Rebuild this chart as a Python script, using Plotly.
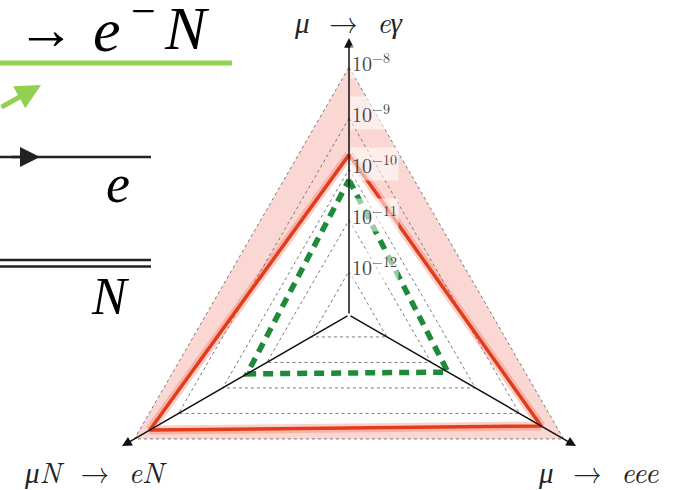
import numpy as np
import plotly.graph_objects as go

# --- chart data -------------------------------------------------------------
processes = ["<i>μ</i>  →  <i>eγ</i>", "<i>μ</i>  →  <i>eee</i>", "<i>μN</i>  →  <i>eN</i>"]
axis_angles = [90, -30, 210]                      # direction of each process axis (deg)
tick_exponents = [-12, -11, -10, -9, -8]
tick_labels = ["10<sup>−12</sup>", "10<sup>−11</sup>", "10<sup>−10</sup>",
               "10<sup>−9</sup>", "10<sup>−8</sup>"]
center_exponent = -12.86                          # log10 value at the origin

model_br = [10 ** -9.72, 10 ** -8.51, 10 ** -8.35]        # solid red triangle
band_upper_br = [1e-8, 1e-8, 1e-8]                         # outer edge of shaded band
alt_model_br = [10 ** -10.21, 10 ** -10.62, 10 ** -10.55]  # dashed green triangle
axis_end_br = [10 ** -7.43, 10 ** -7.72, 10 ** -7.72]      # arrow tips

W, H = 673, 490
PX_PER_DECADE = 51.0
CX, CY = 349.0, 315.0     # origin in pixels
TEX = "Latin Modern Roman"
SERIF = "Liberation Serif"


def project(values, close=True):
    """Map branching ratios on the three log axes to x/y (in decades)."""
    r = np.log10(np.asarray(values, dtype=float)) - center_exponent
    th = np.radians(axis_angles)
    x, y = r * np.cos(th), r * np.sin(th)
    if close:
        x, y = np.append(x, x[0]), np.append(y, y[0])
    return x, y


def px(xp):
    return xp / W


def py(yp):
    return 1 - yp / H


fig = go.Figure()

# shaded band between the model triangle and the 1e-8 triangle
xi, yi = project(model_br)
fig.add_trace(go.Scatter(x=xi, y=yi, mode="lines", line=dict(width=0),
                         hoverinfo="skip"))
xo, yo = project(band_upper_br)
fig.add_trace(go.Scatter(x=xo, y=yo, mode="lines", line=dict(width=0),
                         fill="tonext", fillcolor="rgba(244,150,140,0.38)",
                         hoverinfo="skip"))

# dotted grid triangles at each decade
for e in tick_exponents:
    gx, gy = project([10.0 ** e] * 3)
    fig.add_trace(go.Scatter(x=gx, y=gy, mode="lines",
                             line=dict(color="#7a7a7a", width=1, dash="dot"),
                             hoverinfo="skip"))

# model triangle (soft halo + line)
fig.add_trace(go.Scatter(x=xi, y=yi, mode="lines",
                         line=dict(color="rgba(235,70,40,0.25)", width=9),
                         hoverinfo="skip"))
fig.add_trace(go.Scatter(x=xi, y=yi, mode="lines",
                         line=dict(color="#e23c1c", width=3.5),
                         hoverinfo="skip"))

# alternative model triangle
ax_, ay_ = project(alt_model_br)
fig.add_trace(go.Scatter(x=ax_, y=ay_, mode="lines",
                         line=dict(color="#1e8a3a", width=5.5, dash="10px,7px"),
                         hoverinfo="skip"))

annotations = []
# process axes with arrow heads
tx, ty = project(axis_end_br, close=False)
for x_t, y_t in zip(tx, ty):
    annotations.append(dict(x=x_t, y=y_t, ax=0, ay=0, xref="x", yref="y",
                            axref="x", ayref="y", text="", showarrow=True,
                            arrowhead=2, arrowsize=1.3, arrowwidth=1.5,
                            arrowcolor="#111"))

# decade labels along the vertical axis
for e, lab in zip(tick_exponents, tick_labels):
    annotations.append(dict(x=0.02, y=e - center_exponent, xref="x", yref="y",
                            text=lab, showarrow=False, xanchor="left",
                            yanchor="middle", yshift=5,
                            bgcolor="rgba(255,255,255,0.55)", borderpad=1,
                            font=dict(family=TEX, size=20, color="#444")))

# process names
label_pos = [(349, 21), (598, 470), (95, 470)]
for name, (lx, ly) in zip(processes, label_pos):
    annotations.append(dict(x=px(lx), y=py(ly), xref="paper", yref="paper",
                            text=name, showarrow=False, xanchor="center",
                            yanchor="middle",
                            font=dict(family=TEX, size=29, color="#222")))

# diagram fragment on the left: reaction text set piece by piece
reaction_parts = [("→", 46, 30, 58), ("<i>e</i>", 107, 30, 62),
                  ("−", 143, 11, 44), ("<i>N</i>", 187, 28, 62)]
for txt, cx_, cy_, fs in reaction_parts:
    annotations.append(dict(x=px(cx_), y=py(cy_), xref="paper", yref="paper",
                            text=txt, showarrow=False, xanchor="center",
                            yanchor="middle",
                            font=dict(family=SERIF, size=fs, color="#000")))
annotations.append(dict(x=px(118), y=py(184), xref="paper", yref="paper",
                        text="<i>e</i>", showarrow=False, xanchor="center",
                        yanchor="middle",
                        font=dict(family=SERIF, size=54, color="#000")))
annotations.append(dict(x=px(110), y=py(296), xref="paper", yref="paper",
                        text="<i>N</i>", showarrow=False, xanchor="center",
                        yanchor="middle",
                        font=dict(family=SERIF, size=52, color="#000")))
# green momentum arrow (tail given as pixel offset from the tip)
annotations.append(dict(x=px(41), y=py(85), ax=-43, ay=23,
                        xref="paper", yref="paper", text="", showarrow=True,
                        arrowhead=2, arrowsize=1.0, arrowwidth=5,
                        arrowcolor="#92d050"))
# electron line arrow
annotations.append(dict(x=px(40), y=py(157), ax=-30, ay=0,
                        xref="paper", yref="paper", text="", showarrow=True,
                        arrowhead=2, arrowsize=1.6, arrowwidth=2.5,
                        arrowcolor="#222"))

shapes = [
    dict(type="line", xref="paper", yref="paper", x0=0, x1=px(232),
         y0=py(63), y1=py(63), line=dict(color="#92d050", width=5)),
    dict(type="line", xref="paper", yref="paper", x0=0, x1=px(151),
         y0=py(157), y1=py(157), line=dict(color="#222", width=2.5)),
    dict(type="line", xref="paper", yref="paper", x0=0, x1=px(151),
         y0=py(260), y1=py(260), line=dict(color="#222", width=2.5)),
    dict(type="line", xref="paper", yref="paper", x0=0, x1=px(151),
         y0=py(266.5), y1=py(266.5), line=dict(color="#222", width=2.5)),
]

fig.update_layout(
    width=W, height=H,
    margin=dict(l=0, r=0, t=0, b=0),
    paper_bgcolor="white", plot_bgcolor="white",
    showlegend=False,
    xaxis=dict(range=[-CX / PX_PER_DECADE, (W - CX) / PX_PER_DECADE],
               visible=False, fixedrange=True),
    yaxis=dict(range=[-(H - CY) / PX_PER_DECADE, CY / PX_PER_DECADE],
               visible=False, fixedrange=True),
    annotations=annotations,
    shapes=shapes,
)

fig.write_html("out.html")
